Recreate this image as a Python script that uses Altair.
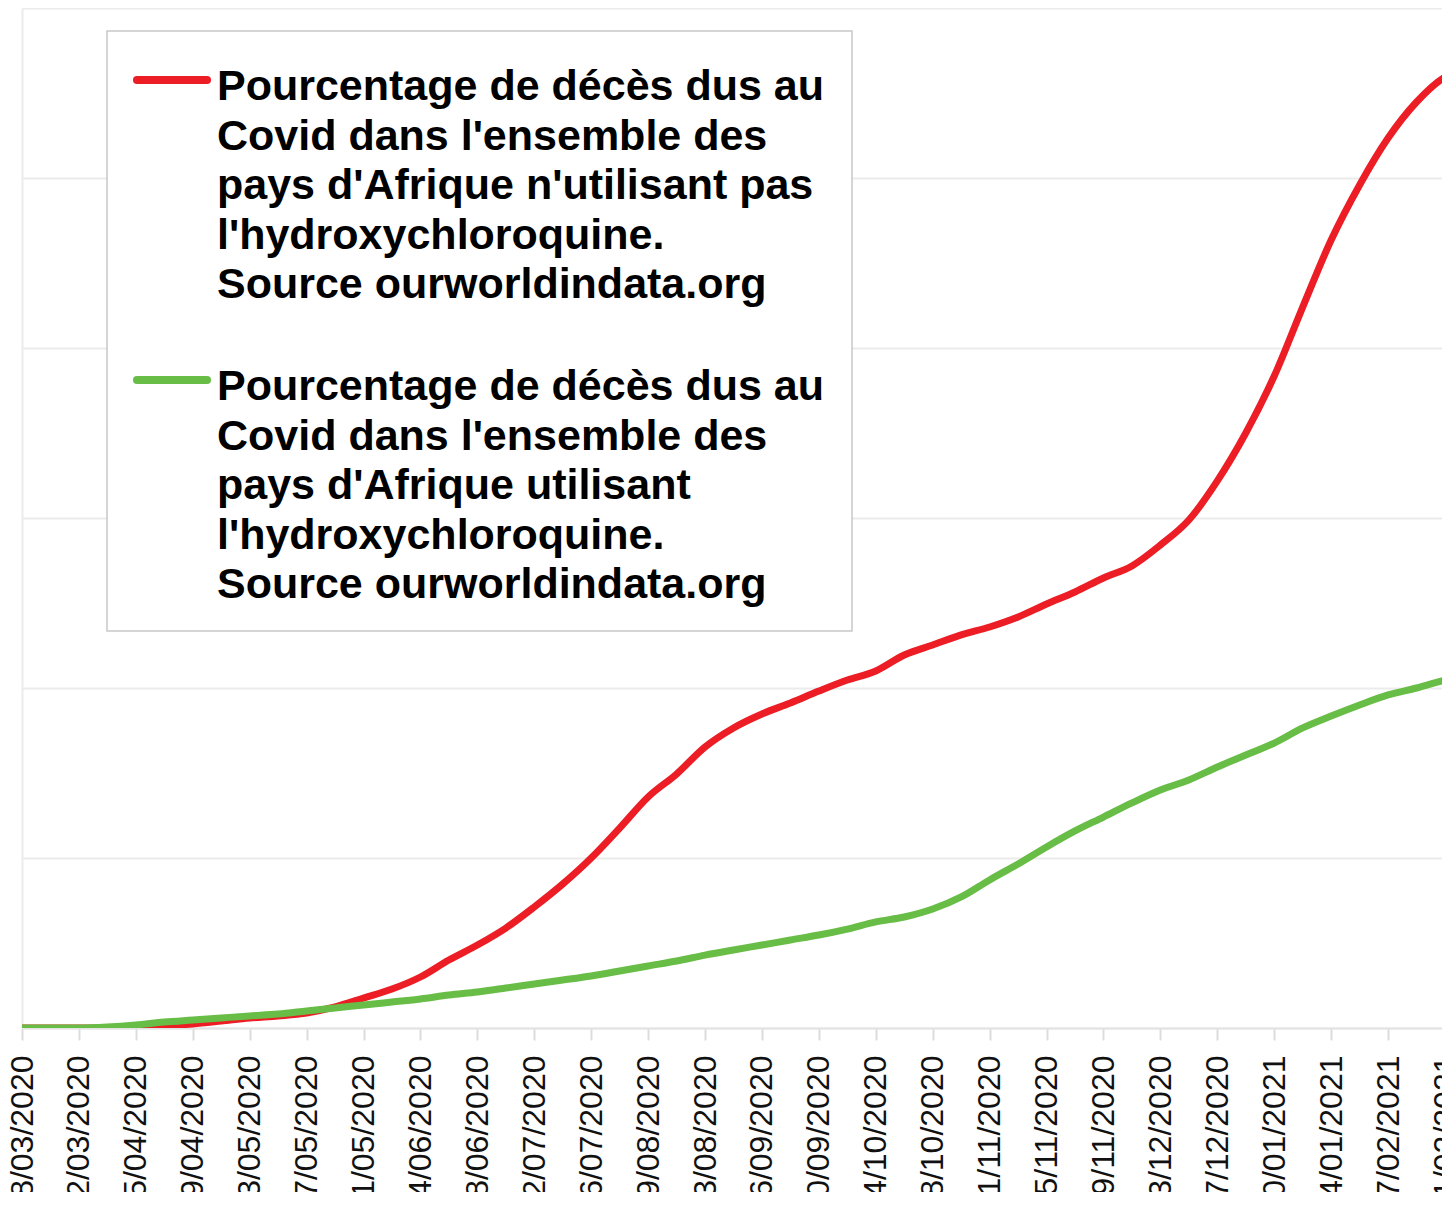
import altair as alt
import pandas as pd

# ---------------- data ----------------
dates = list(pd.date_range("2020-03-08", periods=51, freq="7D").strftime("%Y-%m-%dT00:00:00")) + ["2021-02-23T00:00:00"]

pct_sans_hcq = [
    0, 0, 0, 0, 0.00006, 0.00012, 0.00024, 0.00041, 0.00059, 0.00071,
    0.00088, 0.00124, 0.00176, 0.00229, 0.00300, 0.00400, 0.00488, 0.00588, 0.00712, 0.00847,
    0.01, 0.01176, 0.01359, 0.01494, 0.01653, 0.01765, 0.01847, 0.01912, 0.01982, 0.02047,
    0.021, 0.02194, 0.02253, 0.02312, 0.02359, 0.02418, 0.02494, 0.02565, 0.02647, 0.02718,
    0.02841, 0.02988, 0.03218, 0.035, 0.03835, 0.04241, 0.04635, 0.04959, 0.05235, 0.05447,
    0.05594, 0.05618,
]
pct_avec_hcq = [
    0, 0, 0, 0.00006, 0.00018, 0.00035, 0.00047, 0.00059, 0.00071, 0.00082,
    0.001, 0.00118, 0.00135, 0.00153, 0.00171, 0.00194, 0.00212, 0.00235, 0.00259, 0.00282,
    0.00306, 0.00335, 0.00365, 0.00394, 0.00429, 0.00459, 0.00488, 0.00518, 0.00547, 0.00582,
    0.00624, 0.00653, 0.007, 0.00771, 0.00871, 0.00965, 0.01065, 0.01159, 0.01241, 0.01324,
    0.014, 0.01459, 0.01535, 0.01606, 0.01676, 0.01765, 0.01835, 0.019, 0.01959, 0.02,
    0.02047, 0.02059,
]

tick_dates = [
    "08/03/2020", "22/03/2020", "05/04/2020", "19/04/2020", "03/05/2020", "17/05/2020",
    "31/05/2020", "14/06/2020", "28/06/2020", "12/07/2020", "26/07/2020", "09/08/2020",
    "23/08/2020", "06/09/2020", "20/09/2020", "04/10/2020", "18/10/2020", "01/11/2020",
    "15/11/2020", "29/11/2020", "13/12/2020", "27/12/2020", "10/01/2021", "24/01/2021",
    "07/02/2021", "21/02/2021",
]
y_grid = [0, 0.01, 0.02, 0.03, 0.04, 0.05, 0.06]

label_sans = [
    "Pourcentage de décès dus au",
    "Covid dans l'ensemble des",
    "pays d'Afrique n'utilisant pas",
    "l'hydroxychloroquine.",
    "Source ourworldindata.org",
]
label_avec = [
    "Pourcentage de décès dus au",
    "Covid dans l'ensemble des",
    "pays d'Afrique utilisant",
    "l'hydroxychloroquine.",
    "Source ourworldindata.org",
]

RED = "#ec1d24"
GREEN = "#67bd45"
GRID = "#ebebeb"


def to_dt(s, hours=0, minutes=0):
    d, m, y = s.split("/")
    return alt.DateTime(year=int(y), month=int(m), date=int(d), hours=hours, minutes=minutes)


df_sans = pd.DataFrame({"date": dates, "pct": pct_sans_hcq})
df_avec = pd.DataFrame({"date": dates, "pct": pct_avec_hcq})
one = pd.DataFrame({"k": [0]})

x_enc = alt.X(
    "date:T",
    title=None,
    scale=alt.Scale(
        domain=[to_dt("08/03/2020"), to_dt("22/02/2021", hours=5, minutes=30)],
        range=[0, 1428],
    ),
    axis=alt.Axis(
        values=[to_dt(s) for s in tick_dates],
        format="%d/%m/%Y",
        labelAngle=-90,
        labelFont="Liberation Sans",
        labelFontSize=32,
        labelColor="#111111",
        labelPadding=15,
        labelOverlap=False,
        labelFlush=False,
        tickSize=12,
        tickWidth=2,
        tickColor="#dcdcdc",
        domainColor="#e3e3e3",
        domainWidth=2,
        grid=False,
    ),
)
y_enc = alt.Y(
    "pct:Q",
    title=None,
    scale=alt.Scale(domain=[0, 0.06], nice=False, zero=True),
    axis=alt.Axis(
        values=y_grid,
        labels=False,
        ticks=False,
        domainColor=GRID,
        domainWidth=2,
        grid=True,
        gridColor=GRID,
        gridWidth=2,
    ),
)

line_sans = alt.Chart(df_sans).mark_line(
    color=RED, strokeWidth=7, strokeCap="round", strokeJoin="round", clip=True, interpolate="monotone"
).encode(x=x_enc, y=y_enc)
line_avec = alt.Chart(df_avec).mark_line(
    color=GREEN, strokeWidth=7, strokeCap="round", strokeJoin="round", clip=True, interpolate="monotone"
).encode(x=x_enc, y=y_enc)

# ---------------- legend (drawn manually) ----------------
box = alt.Chart(one).mark_rect(fill="white", stroke="#c8c8c8", strokeWidth=1.5).encode(
    x=alt.value(85), x2=alt.value(830), y=alt.value(23), y2=alt.value(623)
)
sym_sans = alt.Chart(one).mark_rule(color=RED, strokeWidth=8, strokeCap="round").encode(
    x=alt.value(115), x2=alt.value(185), y=alt.value(72)
)
sym_avec = alt.Chart(one).mark_rule(color=GREEN, strokeWidth=8, strokeCap="round").encode(
    x=alt.value(115), x2=alt.value(185), y=alt.value(372)
)
text_style = dict(
    align="left", baseline="alphabetic", fontSize=43, fontWeight="bold",
    font="Liberation Sans", lineBreak="\n", lineHeight=49.5, color="#000000",
)
txt_sans = alt.Chart(one).mark_text(**text_style).encode(
    x=alt.value(195), y=alt.value(92), text=alt.value("\n".join(label_sans))
)
txt_avec = alt.Chart(one).mark_text(**text_style).encode(
    x=alt.value(195), y=alt.value(392), text=alt.value("\n".join(label_avec))
)

chart = alt.layer(line_sans, line_avec, box, sym_sans, sym_avec, txt_sans, txt_avec).properties(
    width=1420,
    height=1020,
    autosize=alt.AutoSizeParams(type="none"),
    padding={"left": 14, "top": 0, "right": 0, "bottom": 164},
    background="white",
).configure_view(stroke=None)

chart.save("out.html", embed_options={"renderer": "svg", "actions": False})
